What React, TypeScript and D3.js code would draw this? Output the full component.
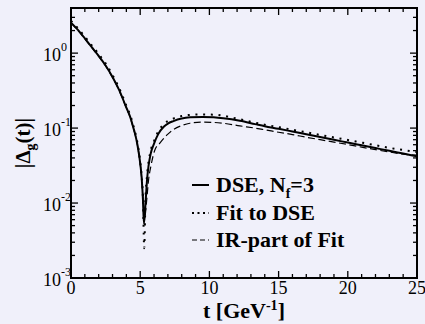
import React, { useRef, useEffect } from 'react';
import * as d3 from 'd3';

// DSE result, N_f = 3 (solid)
const dseT = [0, 0.5, 1, 1.5, 2, 2.5, 3, 3.5, 4, 4.3, 4.5, 4.62, 4.8, 5.0, 5.1, 5.2, 5.27, 5.4, 5.5, 5.6, 5.75, 6.0, 6.3, 6.7, 7.0, 7.4, 8.0, 8.6, 9.5, 10.3, 11, 12.2, 13.3, 14, 15, 16, 17, 18, 19, 20, 21, 22, 23, 24, 25];
const dseV = [2.55, 2.04, 1.57, 1.2, 0.92, 0.685, 0.48, 0.316, 0.187, 0.137, 0.102, 0.085, 0.06, 0.034, 0.0224, 0.011, 0.0053, 0.011, 0.021, 0.031, 0.045, 0.062, 0.083, 0.104, 0.115, 0.124, 0.134, 0.139, 0.141, 0.139, 0.135, 0.125, 0.113, 0.106, 0.098, 0.09, 0.0826, 0.0759, 0.0697, 0.0641, 0.0589, 0.0541, 0.0497, 0.0457, 0.042];

// Fit to DSE (dotted)
const fitT = [0, 0.5, 1, 1.5, 2, 2.5, 3, 3.5, 4, 4.3, 4.5, 4.62, 4.8, 5.0, 5.1, 5.2, 5.29, 5.38, 5.5, 5.7, 6.0, 6.3, 6.7, 7.0, 7.4, 8.0, 8.6, 9.5, 10.3, 11, 12.2, 13.3, 14, 15, 16, 17, 18, 19, 20, 21, 22, 23, 24, 25];
const fitV = [2.7, 2.15, 1.66, 1.27, 0.975, 0.73, 0.51, 0.335, 0.2, 0.146, 0.109, 0.091, 0.064, 0.036, 0.0235, 0.0115, 0.0025, 0.011, 0.024, 0.045, 0.067, 0.09, 0.112, 0.124, 0.134, 0.145, 0.15, 0.152, 0.151, 0.146, 0.131, 0.118, 0.111, 0.103, 0.095, 0.088, 0.081, 0.075, 0.0695, 0.064, 0.059, 0.0545, 0.051, 0.048];

// IR-part of the fit (dashed)
const irT = [0, 0.5, 1, 1.5, 2, 2.5, 3, 3.5, 4, 4.3, 4.5, 4.62, 4.8, 5.0, 5.1, 5.22, 5.3, 5.45, 5.6, 5.8, 6.06, 6.42, 7.0, 7.38, 8.0, 8.59, 9.5, 10.3, 11, 12.2, 13.3, 14, 15, 16, 17, 18, 19, 20, 21, 22, 23, 24, 25];
const irV = [2.52, 2.01, 1.55, 1.18, 0.905, 0.675, 0.472, 0.31, 0.184, 0.135, 0.1, 0.084, 0.059, 0.033, 0.022, 0.0105, 0.006, 0.01, 0.02, 0.033, 0.051, 0.063, 0.083, 0.095, 0.108, 0.116, 0.12, 0.119, 0.116, 0.107, 0.1, 0.095, 0.088, 0.082, 0.0755, 0.07, 0.065, 0.0603, 0.0557, 0.0516, 0.048, 0.045, 0.0435, 0.042];

const xTickValues = [0, 5, 10, 15, 20, 25];
const yExponents = [-3, -2, -1, 0];
const legendLabels = ['DSE, N', 'Fit to DSE', 'IR-part of Fit'];

const W = 425;
const H = 324;
const BG = '#f0f0fa';
const FONT = 'Liberation Serif, Times New Roman, Times, DejaVu Serif, serif';

function SchwingerChart() {
  const svgRef = useRef<SVGSVGElement>(null);

  useEffect(() => {
    if (!svgRef.current) return;
    const svg = d3.select(svgRef.current);
    svg.selectAll('*').remove();

    const margin = { top: 8, right: 8, bottom: 46, left: 71 };
    const x = d3.scaleLinear().domain([0, 25]).range([margin.left, W - margin.right]);
    const y = d3.scaleLog().domain([1e-3, 4]).range([H - margin.bottom, margin.top]);
    const [x0, x1] = x.range();
    const [y0, y1] = y.range();

    svg.append('rect').attr('width', W).attr('height', H).attr('fill', BG);

    // curves
    const line = d3.line<[number, number]>()
      .x(d => x(d[0]))
      .y(d => y(d[1]))
      .curve(d3.curveMonotoneX);

    const series = [
      { t: irT, v: irV, width: 1.2, dash: '7,3.5' },
      { t: fitT, v: fitV, width: 2, dash: '2,5.7' },
      { t: dseT, v: dseV, width: 2, dash: null },
    ];
    series.forEach(s => {
      const pts = s.t.map((t, i) => [t, s.v[i]] as [number, number]);
      svg.append('path')
        .datum(pts)
        .attr('fill', 'none')
        .attr('stroke', '#000')
        .attr('stroke-width', s.width)
        .attr('stroke-dasharray', s.dash)
        .attr('d', line);
    });

    // ticks
    const ticks = svg.append('g').attr('stroke', '#000').attr('stroke-width', 1.3);
    d3.range(0, 26, 1).forEach(t => {
      const len = t % 5 === 0 ? 7 : 4;
      ticks.append('line').attr('x1', x(t)).attr('x2', x(t)).attr('y1', y0).attr('y2', y0 - len);
      ticks.append('line').attr('x1', x(t)).attr('x2', x(t)).attr('y1', y1).attr('y2', y1 + len);
    });
    yExponents.forEach(e => {
      for (let m = 1; m <= 9; m++) {
        const v = m * Math.pow(10, e);
        if (v > 4) break;
        const len = m === 1 ? 7 : 4;
        ticks.append('line').attr('x1', x0).attr('x2', x0 + len).attr('y1', y(v)).attr('y2', y(v));
        ticks.append('line').attr('x1', x1).attr('x2', x1 - len).attr('y1', y(v)).attr('y2', y(v));
      }
    });

    // frame
    svg.append('rect')
      .attr('x', x0).attr('y', y1)
      .attr('width', x1 - x0).attr('height', y0 - y1)
      .attr('fill', 'none').attr('stroke', '#000').attr('stroke-width', 2);

    // x tick labels
    xTickValues.forEach(t => {
      svg.append('text')
        .attr('x', x(t)).attr('y', y0 + 16)
        .attr('text-anchor', 'middle')
        .style('font-family', FONT).attr('font-size', 18)
        .text(t);
    });

    // y tick labels
    yExponents.forEach(e => {
      const txt = svg.append('text')
        .attr('x', 43).attr('y', y(Math.pow(10, e)) + 8)
        .style('font-family', FONT).attr('font-size', 18);
      txt.append('tspan').text('10');
      txt.append('tspan').attr('dy', -10).attr('font-size', 12).text(String(e));
    });

    // x axis title
    const xt = svg.append('text')
      .attr('x', (x0 + x1) / 2).attr('y', 318)
      .attr('text-anchor', 'middle')
      .style('font-family', FONT).attr('font-size', 22).attr('font-weight', 'bold');
    xt.append('tspan').text('t [GeV');
    xt.append('tspan').attr('dy', -8).attr('font-size', 14).text('-1');
    xt.append('tspan').attr('dy', 8).text(']');

    // y axis title
    const yt = svg.append('text')
      .attr('transform', `translate(30,${(y0 + y1) / 2}) rotate(-90)`)
      .attr('text-anchor', 'middle')
      .style('font-family', FONT).attr('font-size', 21).attr('font-weight', 'bold');
    yt.append('tspan').text('|\u0394');
    yt.append('tspan').attr('dy', 5).attr('font-size', 14).text('g');
    yt.append('tspan').attr('dy', -5).text('(t)|');

    // legend
    const legendY = [185, 213, 240];
    const legendDash = [null, '2,3.5', '5,3'];
    const legendWidth = [2, 2, 1.2];
    legendLabels.forEach((label, i) => {
      svg.append('line')
        .attr('x1', 192).attr('x2', 209)
        .attr('y1', legendY[i]).attr('y2', legendY[i])
        .attr('stroke', '#000')
        .attr('stroke-width', legendWidth[i])
        .attr('stroke-dasharray', legendDash[i]);
      const txt = svg.append('text')
        .attr('x', 216).attr('y', legendY[i] + 7)
        .style('font-family', FONT).attr('font-size', 22).attr('font-weight', 'bold');
      txt.append('tspan').text(label);
      if (i === 0) {
        txt.append('tspan').attr('dy', 6).attr('font-size', 14).text('f');
        txt.append('tspan').attr('dy', -6).text('=3');
      }
    });
  }, []);

  return <svg ref={svgRef} width={W} height={H} style={{ display: 'block' }} />;
}

export default function App() {
  return (
    <div style={{ position: 'fixed', left: 0, top: 0, width: W, height: H, background: BG }}>
      <SchwingerChart />
    </div>
  );
}
